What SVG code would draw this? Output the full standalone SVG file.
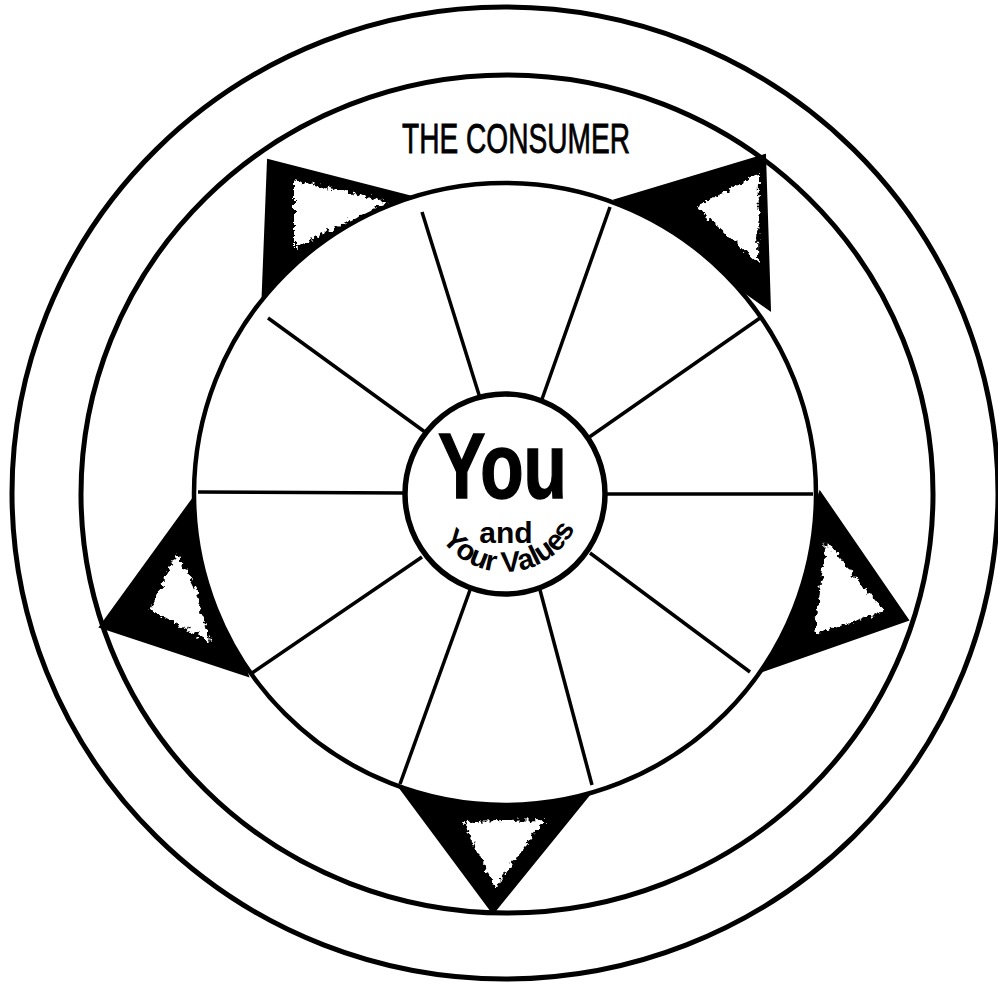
<svg xmlns="http://www.w3.org/2000/svg" width="998" height="985" viewBox="0 0 998 985">
<style>
.ring{fill:none;stroke:#000;stroke-width:5}
.tri{fill:#000;stroke:#000;stroke-width:2;stroke-linejoin:miter}
.hole{fill:#fff;filter:url(#rough)}
.spoke{stroke:#000;stroke-width:3.5;stroke-linecap:butt}
.lbl{font-family:"Liberation Sans",Arial,sans-serif;fill:#000}
.arc{font-family:"Liberation Sans",Arial,sans-serif;fill:#000;font-size:29px;font-weight:bold;text-anchor:middle}
</style>
<defs>
<filter id="rough" x="-25%" y="-25%" width="150%" height="150%">
<feTurbulence type="fractalNoise" baseFrequency="0.2" numOctaves="3" seed="4" result="n"/>
<feDisplacementMap in="SourceGraphic" in2="n" scale="10" xChannelSelector="R" yChannelSelector="G"/>
</filter>
</defs>
<rect width="998" height="985" fill="#fff"/>
<g id="rings">
<ellipse class="ring" cx="505" cy="493" rx="493" ry="486"/>
<ellipse class="ring" cx="507" cy="494" rx="426" ry="419"/>
</g>
<g id="triangles">
<g id="tri-top-left"><polygon class="tri" points="268,160 424,200 262,312"/><polygon class="hole" points="294,180 389,202 294,248"/></g>
<g id="tri-top-right"><polygon class="tri" points="765,155 615,200 770,310"/><polygon class="hole" points="696,207 759,174 758,263"/></g>
<g id="tri-left"><polygon class="tri" points="192,500 100,627 248,676"/><polygon class="hole" points="177,554 150,610 210,641 194,586"/></g>
<g id="tri-right"><polygon class="tri" points="820,492 908,620 757,673"/><polygon class="hole" points="826,541 884,611 815,634"/></g>
<g id="tri-bottom"><polygon class="tri" points="400,788 493,913 593,790"/><polygon class="hole" points="464,822 545,820 495,887"/></g>
</g>
<g id="wheel">
<circle cx="505" cy="494" r="311" fill="#fff" stroke="#000" stroke-width="4.5"/>
</g>
<g id="spokes">
<line class="spoke" x1="422" y1="212" x2="480" y2="398"/>
<line class="spoke" x1="610" y1="207" x2="541" y2="402"/>
<line class="spoke" x1="268" y1="318" x2="425" y2="432"/>
<line class="spoke" x1="760" y1="318" x2="588" y2="438"/>
<line class="spoke" x1="198" y1="492" x2="405" y2="493"/>
<line class="spoke" x1="607" y1="494" x2="813" y2="494"/>
<line class="spoke" x1="252" y1="673" x2="422" y2="557"/>
<line class="spoke" x1="590" y1="553" x2="750" y2="672"/>
<line class="spoke" x1="470" y1="590" x2="400" y2="784"/>
<line class="spoke" x1="540" y1="590" x2="592" y2="785"/>
</g>
<g id="center">
<circle cx="505" cy="494" r="100" fill="#fff" stroke="#000" stroke-width="5.5"/>
<text class="lbl" x="438" y="498" font-size="92" font-weight="bold" stroke="#000" stroke-width="1.5" textLength="129" lengthAdjust="spacingAndGlyphs">You</text>
<text class="lbl" x="506" y="543" font-size="30" font-weight="bold" text-anchor="middle">and</text>
<g id="your-values">
<text class="arc" transform="translate(447.8,547) rotate(47.2)">Y</text>
<text class="arc" transform="translate(461.2,558.5) rotate(34.2)">o</text>
<text class="arc" transform="translate(476,566.4) rotate(21.8)">u</text>
<text class="arc" transform="translate(489.3,570.4) rotate(11.6)">r</text>
<text class="arc" transform="translate(511.5,571.7) rotate(-4.8)">V</text>
<text class="arc" transform="translate(528.1,568.5) rotate(-17.2)">a</text>
<text class="arc" transform="translate(538.8,564.3) rotate(-25.7)">l</text>
<text class="arc" transform="translate(549.4,558.1) rotate(-34.7)">u</text>
<text class="arc" transform="translate(561.7,547.6) rotate(-46.6)">e</text>
<text class="arc" transform="translate(571.1,535.4) rotate(-57.9)">s</text>
</g>
</g>
<g id="title">
<text class="lbl" x="402" y="153" font-size="42" stroke="#000" stroke-width="0.8" textLength="228" lengthAdjust="spacingAndGlyphs">THE CONSUMER</text>
</g>
</svg>
